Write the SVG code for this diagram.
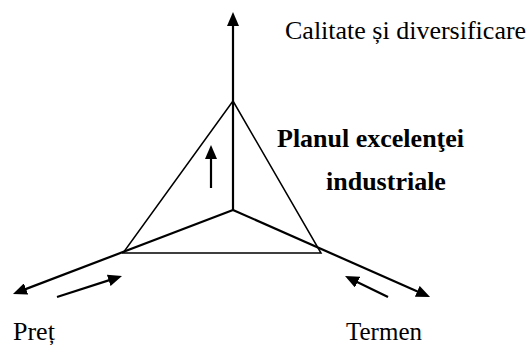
<svg xmlns="http://www.w3.org/2000/svg" width="529" height="347" viewBox="0 0 529 347">
<style>
  .axis { stroke: #000; stroke-width: 2.2; fill: none; }
  .tri { stroke: #000; stroke-width: 1.5; fill: none; stroke-linejoin: miter; }
  .small { stroke: #000; stroke-width: 2.2; fill: none; }
  .lbl { font-family: "Liberation Serif", "Times New Roman", serif; font-size: 26px; fill: #000; }
  .bold { font-family: "Liberation Serif", "Times New Roman", serif; font-size: 26px; font-weight: bold; fill: #000; }
</style>
<defs>
  <marker id="ah" markerUnits="userSpaceOnUse" markerWidth="14" markerHeight="12" refX="4" refY="6" orient="auto">
    <path d="M0,0 L14,6 L0,12 z" fill="#000"/>
  </marker>
</defs>
<g id="triangle">
  <polygon class="tri" points="233,101 123,253 321,253"/>
</g>
<g id="connectors">
  <line class="axis" x1="233" y1="210" x2="233" y2="22" marker-end="url(#ah)"/>
  <line class="axis" x1="233" y1="210" x2="22.3" y2="290.4" marker-end="url(#ah)"/>
  <line class="axis" x1="233" y1="210" x2="420.9" y2="293" marker-end="url(#ah)"/>
  <line class="small" x1="211" y1="188" x2="211" y2="155" marker-end="url(#ah)"/>
  <line class="small" x1="57" y1="297" x2="112.5" y2="279.1" marker-end="url(#ah)"/>
  <line class="small" x1="388" y1="297" x2="354" y2="280.4" marker-end="url(#ah)"/>
</g>
<g id="label-calitate">
  <text class="lbl" x="285" y="39">Calitate și diversificare</text>
</g>
<g id="label-plan">
  <text class="bold" x="277" y="147">Planul excelenţei</text>
  <text class="bold" x="326" y="190">industriale</text>
</g>
<g id="label-pret">
  <text class="lbl" x="13" y="340">Preț</text>
</g>
<g id="label-termen">
  <text class="lbl" x="346" y="340" style="font-size:25px">Termen</text>
</g>
</svg>
